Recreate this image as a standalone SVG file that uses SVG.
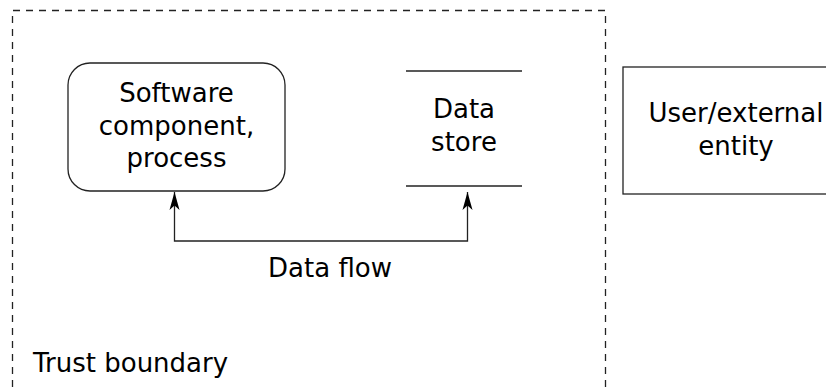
<svg xmlns="http://www.w3.org/2000/svg" width="826" height="391" viewBox="0 0 826 391">
<style>
.t{font-family:"DejaVu Sans",sans-serif;font-size:26px;fill:#000;text-anchor:middle}
.s{fill:none;stroke:#222;stroke-width:1.3}
</style>
<defs>
<marker id="arr" markerUnits="userSpaceOnUse" markerWidth="18" markerHeight="11" refX="18" refY="5.5" orient="auto-start-reverse" viewBox="0 0 18 11" overflow="visible">
<path d="M18,5.5 L0,0.5 L4.5,5.5 L0,10.5 Z" fill="#000"/>
</marker>
</defs>
<rect width="826" height="391" fill="#fff"/>
<g id="trust-boundary">
<path d="M12.5,400 L12.5,10.5 L605.5,10.5 L605.5,400" class="s" stroke-dasharray="7 6"/>
<text class="t" x="33" y="372" style="text-anchor:start">Trust boundary</text>
</g>
<g id="process">
<rect x="68" y="63" width="217" height="128" rx="22" ry="22" class="s"/>
<text class="t" x="176.5" y="102">Software</text>
<text class="t" x="176.5" y="134.5">component,</text>
<text class="t" x="176.5" y="167">process</text>
</g>
<g id="data-store">
<line x1="406" y1="71" x2="522" y2="71" class="s"/>
<line x1="406" y1="186" x2="522" y2="186" class="s"/>
<text class="t" x="464" y="118">Data</text>
<text class="t" x="464" y="150.5">store</text>
</g>
<g id="external-entity">
<rect x="623" y="67" width="226" height="127" class="s"/>
<text class="t" x="736" y="122">User/external</text>
<text class="t" x="736" y="154.5">entity</text>
</g>
<g id="connectors">
<path d="M174.5,192 L174.5,241 L467.5,241 L467.5,192" class="s" marker-start="url(#arr)" marker-end="url(#arr)"/>
<text class="t" x="330" y="277">Data flow</text>
</g>
</svg>
